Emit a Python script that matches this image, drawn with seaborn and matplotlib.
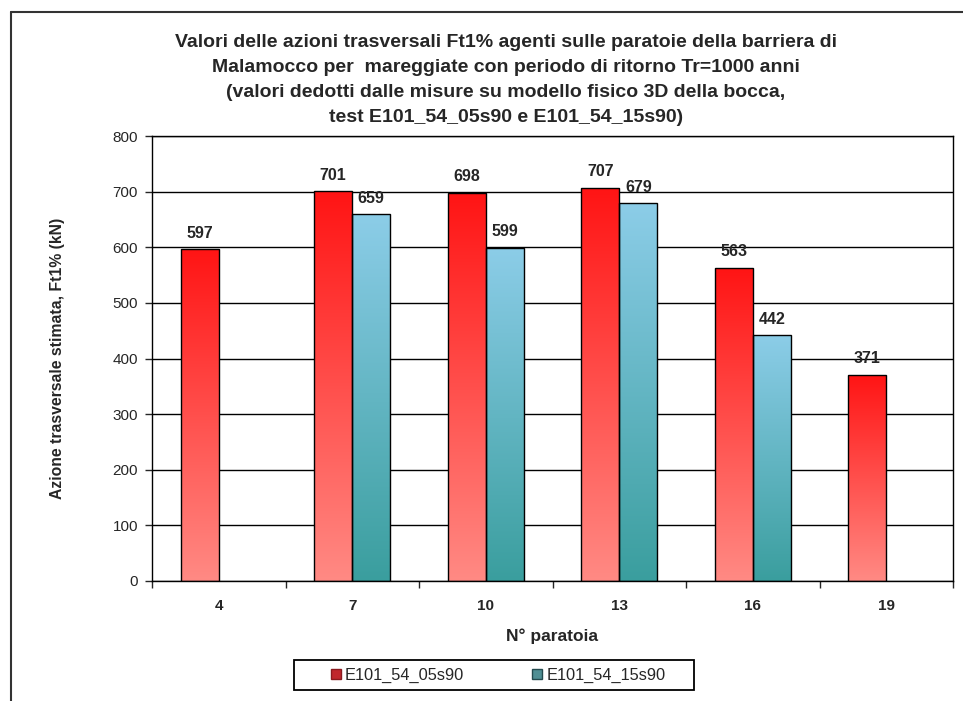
import numpy as np
import pandas as pd
import matplotlib
matplotlib.use("Agg")
from matplotlib import pyplot as plt
from matplotlib.colors import LinearSegmentedColormap
from matplotlib.lines import Line2D
from matplotlib.patches import Rectangle
import seaborn as sns

# Data
paratoie = ["4", "7", "10", "13", "16", "19"]
test_names = ["E101_54_05s90", "E101_54_15s90"]
ft_05s90 = [597, 701, 698, 707, 563, 371]
ft_15s90 = [None, 659, 599, 679, 442, None]

title = ("Valori delle azioni trasversali Ft1% agenti sulle paratoie della barriera di\n"
         "Malamocco per  mareggiate con periodo di ritorno Tr=1000 anni\n"
         "(valori dedotti dalle misure su modello fisico 3D della bocca,\n"
         "test E101_54_05s90 e E101_54_15s90)")

rows = []
for p, a, b in zip(paratoie, ft_05s90, ft_15s90):
    if a is not None:
        rows.append((p, test_names[0], a))
    if b is not None:
        rows.append((p, test_names[1], b))
df = pd.DataFrame(rows, columns=["Paratoia", "Test", "Ft1"])

sns.set_style("white")
plt.rcParams["font.family"] = ["Liberation Sans", "DejaVu Sans"]

fig = plt.figure(figsize=(9.63, 7.01), dpi=100)
ax = fig.add_axes([152 / 963, 1 - 581 / 701, (953 - 152) / 963, (581 - 136) / 701])

ax = sns.barplot(data=df, x="Paratoia", y="Ft1", hue="Test",
                 order=paratoie, hue_order=test_names,
                 width=0.57, dodge=True, legend=False,
                 edgecolor="black", linewidth=1.0, ax=ax)

# gradient fills (bottom colour -> top colour)
grad_cols = [("#ff8a84", "#ff1414"),
             ("#3a9e9e", "#8ccde8")]
grad = np.linspace(0, 1, 256).reshape(-1, 1)
for cont, (c_bot, c_top) in zip(ax.containers, grad_cols):
    cmap = LinearSegmentedColormap.from_list("g", [c_bot, c_top])
    for bar in cont:
        x0, w, h = bar.get_x(), bar.get_width(), bar.get_height()
        im = ax.imshow(grad, cmap=cmap, origin="lower", aspect="auto",
                       extent=[x0, x0 + w, 0, h], zorder=2.5)
        im.set_clip_path(bar)
        bar.set_facecolor("none")
        bar.set_zorder(3)
    ax.bar_label(cont, fmt="%d", padding=6, fontsize=11.5, fontweight="bold")

ax.set_xlim(-0.5, 5.5)
ax.set_ylim(0, 800)
ax.set_yticks(range(0, 801, 100))
ax.yaxis.grid(True, color="black", linewidth=1.0)
ax.set_axisbelow(True)
for s in ax.spines.values():
    s.set_color("black")
    s.set_linewidth(1.0)

ax.tick_params(axis="y", direction="out", length=5, width=1, left=True,
               labelsize=11, pad=5)
ax.tick_params(axis="x", which="major", length=0, labelsize=11, pad=13)
ax.set_xticks(np.arange(-0.5, 6.0, 1.0), minor=True)
ax.tick_params(axis="x", which="minor", direction="out", length=5, width=1,
               bottom=True)
for lbl in ax.get_xticklabels():
    lbl.set_fontweight("bold")

ax.set_xlabel("N° paratoia", fontsize=12.5, fontweight="bold", labelpad=11)
ax.set_ylabel("Azione trasversale stimata, Ft1% (kN)", fontsize=11.3,
              fontweight="bold", labelpad=34)

fig.text(506 / 963, 1 - 34 / 701, title, ha="center", va="top",
         fontsize=14, fontweight="bold", linespacing=1.62)

# legend: frame drawn separately so its size matches the original
fig.add_artist(Rectangle((294 / 963, 1 - 690 / 701), 400 / 963, 30 / 701,
                         transform=fig.transFigure, facecolor="white",
                         edgecolor="black", linewidth=1.3))
handles = [Line2D([], [], linestyle="none", marker="s", markersize=7.5,
                  markerfacecolor="#c0272d", markeredgecolor="#8a1a1f"),
           Line2D([], [], linestyle="none", marker="s", markersize=7.5,
                  markerfacecolor="#4f8f94", markeredgecolor="#234a4e")]
leg = fig.legend(handles, test_names, loc="center",
                 bbox_to_anchor=(497 / 963, 1 - 675 / 701),
                 ncol=2, frameon=False, fontsize=11.8,
                 handletextpad=0.1, columnspacing=4.0, handlelength=0.9)

# outer chart frame (cut off on the right and bottom)
fig.add_artist(Line2D([11 / 963, 11 / 963], [0, 1 - 12 / 701],
                      transform=fig.transFigure, color="#333333", linewidth=1.5))
fig.add_artist(Line2D([11 / 963, 1], [1 - 12 / 701, 1 - 12 / 701],
                      transform=fig.transFigure, color="#333333", linewidth=1.5))

fig.savefig("out.png", dpi=100, facecolor="white")
